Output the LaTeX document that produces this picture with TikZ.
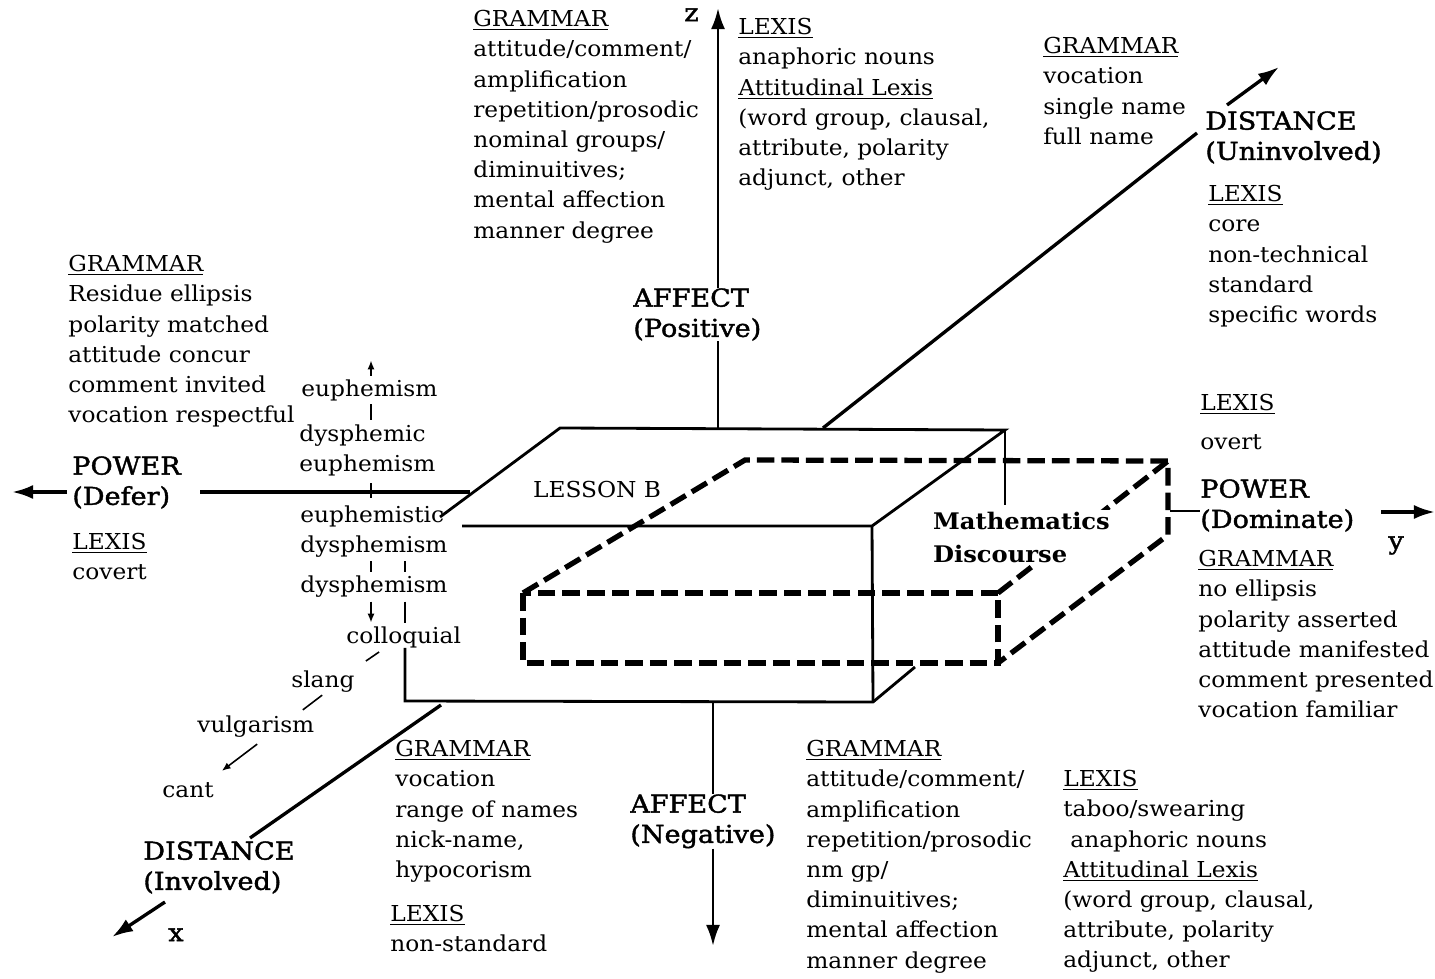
\documentclass[tikz,border=0pt]{standalone}
\usepackage{fontspec}
\setmainfont{DejaVu Serif}[FakeStretch=1.06]
\newfontface\lblfont{DejaVu Serif}[FakeBold=1.6, FakeStretch=1.1]
\usetikzlibrary{arrows.meta,positioning}

\tikzset{
  blk/.style={anchor=north west, align=left, inner sep=0pt,
    font=\fontsize{12.5}{17.2}\selectfont},
  lbl/.style={anchor=north west, align=left, inner sep=0pt,
    font=\lblfont\fontsize{14}{17.2}\selectfont},
  term/.style={anchor=west, inner sep=0pt, font=\fontsize{12.5}{17.2}\selectfont},
  axisline/.style={line width=1.9pt, -{Latex[length=12pt,width=8pt]}},
  boxline/.style={line width=1.6pt},
  hiddenline/.style={line width=3pt, dash pattern=on 10pt off 4pt},
  guide/.style={line width=0.9pt, shorten >=2pt, shorten <=2pt},
  guidetip/.style={guide, -{Latex[length=5pt,width=4pt]}},
}

\begin{document}
\begin{tikzpicture}[x=0.02cm, y=-0.02cm]
  \useasboundingbox (0,0) rectangle (1435,979);

  % the box of lesson B
  \draw[boxline] (440,517) -- (560,428) -- (1005,430) -- (872,526) -- (462,526);
  \draw[boxline] (1005,430) -- (1005,505);
  \draw[boxline] (872,526) -- (873,702);
  % the dashed box
  \draw[hiddenline] (523,593) rectangle (998,663);
  \draw[hiddenline] (523,593) -- (745,460) -- (1168,461) -- (1168,535) -- (998,663);
  \draw[hiddenline] (998,593) -- (1168,461);

  % text round the axes
  \node[blk] (gramtop) at (473,10) {\underline{GRAMMAR}\\ attitude/comment/\\ amplification\\
    repetition/prosodic\\ nominal groups/\\ diminuitives;\\ mental affection\\ manner degree};
  \node[lbl] (zlab) at (684,8) {z};
  \node[blk] (lextop) at (738,18) {\underline{LEXIS}\\ anaphoric nouns\\ \underline{Attitudinal Lexis}\\
    (word group, clausal,\\ attribute, polarity\\ adjunct, other};
  \node[blk] (gramun) at (1043,37) {\underline{GRAMMAR}\\ vocation\\ single name\\ full name};
  \node[lbl] (distun) at (1205,111) {DISTANCE\\(Uninvolved)};
  \node[blk] (lexun) at (1208,185) {\underline{LEXIS}\\ core\\ non-technical\\ standard\\ specific words};
  \node[blk] (gramdefer) at (68,255) {\underline{GRAMMAR}\\ Residue ellipsis\\ polarity matched\\
    attitude concur\\ comment invited\\ vocation respectful};
  \node[lbl] (powdefer) at (72,456) {POWER\\(Defer)};
  \node[blk] (lexdefer) at (72,533) {\underline{LEXIS}\\ covert};
  \node[lbl] (affpos) at (633,288) {AFFECT\\(Positive)};
  \node[font=\fontsize{12.5}{14}\selectfont, inner sep=0pt] (lesson) at (597,490) {LESSON B};
  \node[lbl, font=\bfseries\fontsize{13}{19}\selectfont, fill=white, inner sep=1pt] (math)
    at (931,510) {Mathematics\\Discourse};
  \node[blk] (lexdom) at (1200,394) {\underline{LEXIS}\\[5pt] overt};
  \node[lbl] (powdom) at (1200,479) {POWER\\(Dominate)};
  \node[blk] (gramdom) at (1198,550) {\underline{GRAMMAR}\\ no ellipsis\\ polarity asserted\\
    attitude manifested\\ comment presented\\ vocation familiar};
  \node[lbl] (ylab) at (1388,536) {y};
  \node[blk] (graminv) at (395,740) {\underline{GRAMMAR}\\ vocation\\ range of names\\ nick-name,\\ hypocorism};
  \node[blk] (lexinv) at (390,905) {\underline{LEXIS}\\ non-standard};
  \node[lbl] (distinv) at (143,841) {DISTANCE\\(Involved)};
  \node[lbl] (xlab) at (168,928) {x};
  \node[lbl] (affneg) at (630,794) {AFFECT\\(Negative)};
  \node[blk] (gramneg) at (806,740) {\underline{GRAMMAR}\\ attitude/comment/\\ amplification\\
    repetition/prosodic\\ nm gp/\\ diminuitives;\\ mental affection\\ manner degree};
  \node[blk] (lexneg) at (1063,770) {\underline{LEXIS}\\ taboo/swearing\\ \hspace{4pt}anaphoric nouns\\
    \underline{Attitudinal Lexis}\\ (word group, clausal,\\ attribute, polarity\\ adjunct, other};

  % the scale of terms
  \node[term] (euph) at (301,390) {euphemism};
  \node[blk] (dyseuph) at (299,424) {dysphemic\\ euphemism};
  \node[blk] (euphdys) at (300,505) {euphemistic\\ dysphemism};
  \node[term] (dysph) at (300,587) {dysphemism};
  \node[term] (colloq) at (346,637) {colloquial};
  \node[term] (slang) at (291,682) {slang};
  \node[term] (vulgar) at (197,727) {vulgarism};
  \node[term] (cant) at (162,790) {cant};

  \coordinate (lc) at (371,0);
  \coordinate (rc) at (405,0);
  \coordinate (euphup) at (371,357);
  \draw[guidetip] (euph.north -| lc) -- (euphup);
  \draw[guide] (euph.south -| lc) -- (dyseuph.north -| lc);
  \draw[guide, shorten >=4pt, shorten <=4pt] (dyseuph.south -| lc) -- (euphdys.north -| lc);
  \draw[guide] (euphdys.south -| lc) -- (dysph.north -| lc);
  \draw[guide] (euphdys.south -| rc) -- (dysph.north -| rc);
  \draw[guidetip] (dysph.south -| lc) -- (colloq.north -| lc);
  \draw[guide] (dysph.south -| rc) -- (colloq.north -| rc);
  \coordinate (cs1) at (382,650);
  \coordinate (cs2) at (363,663);
  \coordinate (sv1) at (325,693);
  \coordinate (sv2) at (300,712);
  \coordinate (vc1) at (260,742);
  \coordinate (vc2) at (219,773);
  \draw[guide] (cs1) -- (cs2);
  \draw[guide] (sv1) -- (sv2);
  \draw[guidetip] (vc1) -- (vc2);

  % front bottom of the box, from colloquial
  \draw[boxline] (colloq.south -| rc) -- (405,701) -- (873,702) -- (915,667);

  % axes
  \coordinate (ztop) at (718,428);
  \coordinate (ztip) at (718,8);
  \draw[boxline] (ztop) -- (affpos.south -| ztop);
  \draw[axisline, line width=1.6pt] (affpos.north -| ztop) -- (ztip);
  \coordinate (zbot) at (713,702);
  \coordinate (zend) at (713,946);
  \draw[boxline] (zbot) -- (affneg.north -| zbot);
  \draw[axisline, line width=1.6pt] (affneg.south -| zbot) -- (zend);

  \coordinate (yl0) at (470,492);
  \coordinate (yl1) at (200,492);
  \coordinate (yl2) at (67,492);
  \coordinate (yl3) at (12,492);
  \draw[boxline, line width=1.9pt] (yl0) -- (yl1);
  \draw[axisline] (yl2) -- (yl3);
  \coordinate (yr0) at (1170,511);
  \coordinate (yr3) at (1435,512);
  \draw[boxline] (yr0) -- (powdom.west |- yr0);
  \draw[axisline] (1381,512) -- (yr3);

  \coordinate (xu0) at (823,428);
  \coordinate (xu1) at (1197,133);
  \coordinate (xu2) at (1227,105);
  \coordinate (xu3) at (1279,67);
  \draw[boxline, line width=1.9pt] (xu0) -- (xu1);
  \draw[axisline] (xu2) -- (xu3);
  \coordinate (xl0) at (441,705);
  \coordinate (xl1) at (250,838);
  \coordinate (xl2) at (165,902);
  \coordinate (xl3) at (112,937);
  \draw[boxline, line width=1.9pt] (xl0) -- (xl1);
  \draw[axisline] (xl2) -- (xl3);
\end{tikzpicture}
\end{document}
